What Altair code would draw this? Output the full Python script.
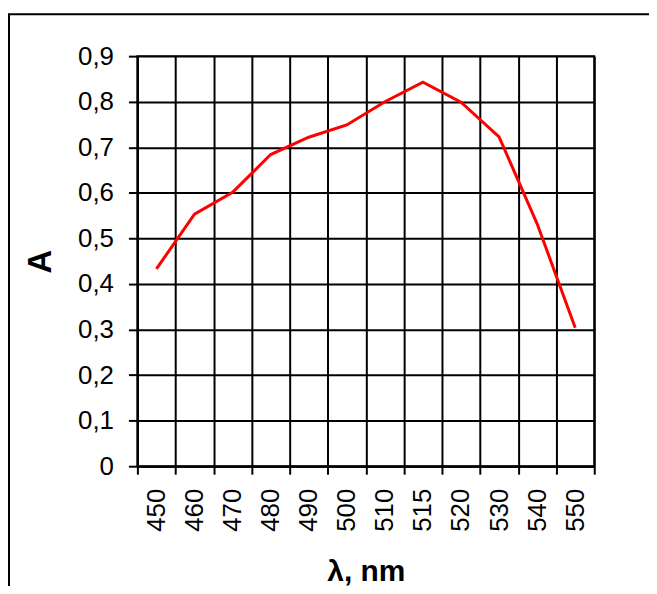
import altair as alt
import pandas as pd

wavelengths = ["450", "460", "470", "480", "490", "500", "510", "515", "520", "530", "540", "550"]
absorbance = [0.433, 0.553, 0.601, 0.684, 0.722, 0.749, 0.800, 0.843, 0.799, 0.723, 0.532, 0.304]
y_ticks = [0, 0.1, 0.2, 0.3, 0.4, 0.5, 0.6, 0.7, 0.8, 0.9]

df = pd.DataFrame({"wl": wavelengths, "A": absorbance})

FONT = "Liberation Sans"

frame = alt.Chart(pd.DataFrame({"k": [0]})).mark_rect(
    fillOpacity=0, stroke="black", strokeWidth=2, clip=False
).encode(
    x=alt.value(-129), x2=alt.value(640), y=alt.value(-42), y2=alt.value(620)
)

line = alt.Chart(df).mark_line(color="#ff0000", strokeWidth=3).encode(
    x=alt.X(
        "wl:N",
        sort=wavelengths,
        scale=alt.Scale(type="band", paddingInner=0, paddingOuter=0),
        axis=alt.Axis(
            title="λ, nm",
            tickBand="extent",
            labelAngle=-90,
            labelFont=FONT,
            labelFontSize=26,
            labelColor="black",
            labelPadding=14,
            tickSize=8,
            tickColor="black",
            tickWidth=2,
            domainColor="black",
            domainWidth=2,
            grid=True,
            gridColor="black",
            gridWidth=2,
            gridOpacity=1,
            titleFont=FONT,
            titleFontSize=30,
            titleFontWeight="bold",
            titleColor="black",
            titlePadding=25,
        ),
    ),
    y=alt.Y(
        "A:Q",
        scale=alt.Scale(domain=[0, 0.9], nice=False, zero=True),
        axis=alt.Axis(
            title="A",
            values=y_ticks,
            labelExpr="datum.value == 0 ? '0' : replace(format(datum.value, '.1f'), '.', ',')",
            labelFont=FONT,
            labelFontSize=26,
            labelColor="black",
            labelPadding=15,
            tickSize=9,
            tickColor="black",
            tickWidth=2,
            domainColor="black",
            domainWidth=2,
            grid=True,
            gridColor="black",
            gridWidth=2,
            gridOpacity=1,
            titleFont=FONT,
            titleFontSize=33,
            titleFontWeight="bold",
            titleColor="black",
            titlePadding=20,
        ),
    ),
)

chart = alt.layer(frame, line).properties(
    width=459,
    height=412,
    autosize=alt.AutoSizeParams(type="none"),
    padding={"left": 130, "top": 47, "right": 55, "bottom": 119},
    background="white",
).configure_view(stroke="black", strokeWidth=2)

chart.save("out.html", embed_options={"renderer": "svg", "actions": False})
